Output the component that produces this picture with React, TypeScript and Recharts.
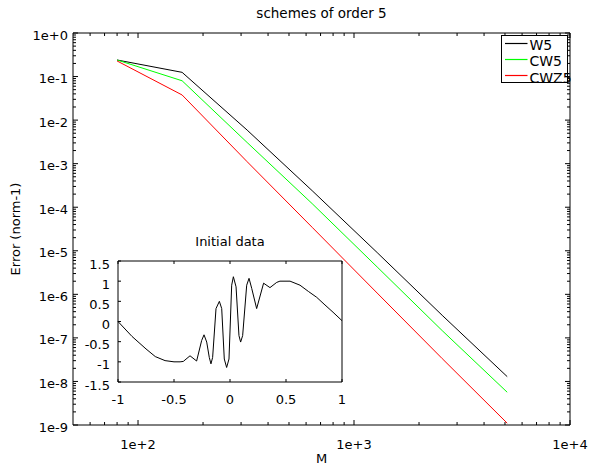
import React from 'react';
import { LineChart, Line, XAxis, YAxis, Legend } from 'recharts';

// convergence data
const M = [80, 160, 320, 640, 1280, 2560, 5120];
const W5 = [0.24, 0.125, 5.9e-3, 2.4e-4, 9.1e-6, 3.3e-7, 1.29e-8];
const CW5 = [0.24, 0.08, 3.06e-3, 1.21e-4, 4.25e-6, 1.47e-7, 5.65e-9];
const CWZ5 = [0.228, 0.0378, 1.11e-3, 3.46e-5, 1.07e-6, 3.35e-8, 1.1e-9];

const SERIES = [
  { key: 'w5', name: 'W5', color: '#000000' },
  { key: 'cw5', name: 'CW5', color: '#00ff00' },
  { key: 'cwz5', name: 'CWZ5', color: '#ff0000' },
];

// inset: initial data u0(x)
const INIT_X = [
  -1, -0.875, -0.75, -0.667, -0.58, -0.5, -0.446, -0.417, -0.357, -0.298, -0.253, -0.232, -0.208,
  -0.185, -0.17, -0.155, -0.125, -0.095, -0.074, -0.051, -0.03, -0.009, 0.015, 0.03, 0.054, 0.08,
  0.095, 0.113, 0.149, 0.17, 0.194, 0.238, 0.3, 0.357, 0.417, 0.446, 0.536, 0.625, 0.7, 0.774,
  0.848, 0.92, 1,
];
const INIT_U = [
  0, -0.37, -0.68, -0.87, -0.97, -1.0, -1.0, -0.99, -0.85, -0.98, -0.47, -0.33, -0.51,
  -0.89, -1.05, -0.89, 0.32, 0.5, 0.32, -0.93, -1.14, -0.93, 0.9, 1.11, 0.86, -0.35,
  -0.51, -0.35, 0.9, 1.07, 0.82, 0.32, 0.95, 0.84, 0.97, 1.0, 1.0, 0.9, 0.745, 0.6,
  0.41, 0.23, 0.02,
];

// tick positions
const X_DECADES = [10, 100, 1000];
const Y_DECADES = [1e-9, 1e-8, 1e-7, 1e-6, 1e-5, 1e-4, 1e-3, 1e-2, 1e-1];
const MULTS = [1, 2, 3, 4, 5, 6, 7, 8, 9];
const X_TICKS = [...X_DECADES.flatMap((d) => MULTS.map((k) => k * d)).filter((v) => v > 50), 10000];
const Y_TICKS = [...Y_DECADES.flatMap((d) => MULTS.map((k) => k * d)), 1];
const INSET_X_TICKS = [-1, -0.5, 0, 0.5, 1];
const INSET_Y_TICKS = [-1.5, -1, -0.5, 0, 0.5, 1, 1.5];

const FONT = 'DejaVu Sans';
const INK = '#000';

const mainRows = M.map((m, i) => ({ m, w5: W5[i], cw5: CW5[i], cwz5: CWZ5[i] }));
const initRows = INIT_X.map((x, i) => ({ x, u: INIT_U[i] }));

const isMajor = (v: number) => {
  const l = Math.log10(v);
  return Math.abs(l - Math.round(l)) < 1e-6;
};
const expLabel = (v: number) => {
  const e = Math.round(Math.log10(v));
  return `1e${e >= 0 ? '+' : '-'}${Math.abs(e)}`;
};

// log axis ticks, drawn inward; only the bottom/left ones get labels
function logTick(side: 'bottom' | 'top' | 'left' | 'right') {
  return (p: any) => {
    const { x, y, payload } = p;
    const major = isMajor(payload.value);
    const len = major ? 5 : 3;
    if (side === 'bottom' || side === 'top') {
      const dir = side === 'bottom' ? -1 : 1;
      return (
        <g>
          <line x1={x} x2={x} y1={y} y2={y + dir * len} stroke={INK} strokeWidth={1} />
          {side === 'bottom' && major && (
            <text x={x} y={y + 24} textAnchor="middle" fontFamily={FONT} fontSize={13} fill={INK}>
              {expLabel(payload.value)}
            </text>
          )}
        </g>
      );
    }
    const dir = side === 'left' ? 1 : -1;
    return (
      <g>
        <line x1={x} x2={x + dir * len} y1={y} y2={y} stroke={INK} strokeWidth={1} />
        {side === 'left' && major && (
          <text x={x - 5} y={y + 6.5} textAnchor="end" fontFamily={FONT} fontSize={13} fill={INK}>
            {expLabel(payload.value)}
          </text>
        )}
      </g>
    );
  };
}

function linTick(side: 'bottom' | 'top' | 'left' | 'right') {
  return (p: any) => {
    const { x, y, payload } = p;
    const len = 3;
    if (side === 'bottom' || side === 'top') {
      const dir = side === 'bottom' ? -1 : 1;
      return (
        <g>
          <line x1={x} x2={x} y1={y} y2={y + dir * len} stroke={INK} strokeWidth={1} />
          {side === 'bottom' && (
            <text x={x} y={y + 22} textAnchor="middle" fontFamily={FONT} fontSize={13} fill={INK}>
              {String(payload.value)}
            </text>
          )}
        </g>
      );
    }
    const dir = side === 'left' ? 1 : -1;
    return (
      <g>
        <line x1={x} x2={x + dir * len} y1={y} y2={y} stroke={INK} strokeWidth={1} />
        {side === 'left' && (
          <text x={x - 8} y={y + 7.5} textAnchor="end" fontFamily={FONT} fontSize={13} fill={INK}>
            {String(payload.value)}
          </text>
        )}
      </g>
    );
  };
}

const LegendBox = () => (
  <svg width={74} height={52} style={{ overflow: 'visible', display: 'block' }}>
    <rect x={0.5} y={0.5} width={66} height={47} fill="#fff" stroke={INK} strokeWidth={1} />
    {SERIES.map((s, i) => (
      <g key={s.key}>
        <line x1={4} x2={26.5} y1={8.5 + i * 16} y2={8.5 + i * 16} stroke={s.color} strokeWidth={1.2} />
        <text x={28.5} y={15 + i * 16.35} fontFamily={FONT} fontSize={14} fill={INK}>
          {s.name}
        </text>
      </g>
    ))}
  </svg>
);

const axisLine = { stroke: INK, strokeWidth: 1 };

export default function App() {
  return (
    <div
      style={{
        position: 'absolute',
        left: 0,
        top: 0,
        width: 589,
        height: 466,
        background: '#fff',
        overflow: 'hidden',
      }}
    >
      <div style={{ position: 'absolute', left: 0, top: 0 }}>
        {/* plot area: x 73..570, y 33..425 (axes take 1px each) */}
        <LineChart width={589} height={466} data={mainRows} margin={{ top: 32, right: 18, bottom: 40, left: 72 }}>
          <XAxis
            xAxisId="b"
            dataKey="m"
            type="number"
            scale="log"
            domain={[50, 10000]}
            allowDataOverflow
            ticks={X_TICKS}
            interval={0}
            height={1}
            tickSize={0}
            tickMargin={0}
            tickLine={false}
            axisLine={axisLine}
            tick={logTick('bottom')}
          />
          <XAxis
            xAxisId="t"
            orientation="top"
            dataKey="m"
            type="number"
            scale="log"
            domain={[50, 10000]}
            allowDataOverflow
            ticks={X_TICKS}
            interval={0}
            height={1}
            tickSize={0}
            tickMargin={0}
            tickLine={false}
            axisLine={axisLine}
            tick={logTick('top')}
          />
          <YAxis
            yAxisId="l"
            type="number"
            scale="log"
            domain={[1e-9, 1]}
            allowDataOverflow
            ticks={Y_TICKS}
            interval={0}
            width={1}
            tickSize={0}
            tickMargin={0}
            tickLine={false}
            axisLine={axisLine}
            tick={logTick('left')}
          />
          <YAxis
            yAxisId="r"
            orientation="right"
            type="number"
            scale="log"
            domain={[1e-9, 1]}
            allowDataOverflow
            ticks={Y_TICKS}
            interval={0}
            width={1}
            tickSize={0}
            tickMargin={0}
            tickLine={false}
            axisLine={axisLine}
            tick={logTick('right')}
          />
          <Legend
            layout="vertical"
            align="center"
            verticalAlign="middle"
            content={<LegendBox />}
            wrapperStyle={{ left: 501, top: 35, width: 74, height: 52 }}
          />
          {SERIES.map((s) => (
            <Line
              key={s.key}
              xAxisId="b"
              yAxisId="l"
              type="linear"
              dataKey={s.key}
              name={s.name}
              stroke={s.color}
              strokeWidth={1}
              dot={false}
              isAnimationActive={false}
            />
          ))}
        </LineChart>
      </div>

      {/* inset: initial data, plot area x 118..342, y 261..382 */}
      <div style={{ position: 'absolute', left: 80, top: 230 }}>
        <LineChart width={270} height={180} data={initRows} margin={{ top: 30, right: 7, bottom: 27, left: 37 }}>
          <XAxis xAxisId="b" dataKey="x" type="number" domain={[-1, 1]} ticks={INSET_X_TICKS} interval={0} height={1} tickSize={0} tickMargin={0} tickLine={false} axisLine={axisLine} tick={linTick('bottom')} />
          <XAxis xAxisId="t" orientation="top" dataKey="x" type="number" domain={[-1, 1]} ticks={INSET_X_TICKS} interval={0} height={1} tickSize={0} tickMargin={0} tickLine={false} axisLine={axisLine} tick={linTick('top')} />
          <YAxis yAxisId="l" type="number" domain={[-1.5, 1.5]} ticks={INSET_Y_TICKS} interval={0} width={1} tickSize={0} tickMargin={0} tickLine={false} axisLine={axisLine} tick={linTick('left')} />
          <YAxis yAxisId="r" orientation="right" type="number" domain={[-1.5, 1.5]} ticks={INSET_Y_TICKS} interval={0} width={1} tickSize={0} tickMargin={0} tickLine={false} axisLine={axisLine} tick={linTick('right')} />
          <Line xAxisId="b" yAxisId="l" type="linear" dataKey="u" stroke="#000000" strokeWidth={1} dot={false} isAnimationActive={false} />
        </LineChart>
      </div>

      {/* titles and axis labels */}
      <svg width={589} height={466} style={{ position: 'absolute', left: 0, top: 0, pointerEvents: 'none' }}>
        <text x={321.5} y={18} textAnchor="middle" fontFamily={FONT} fontSize={13.5} fill={INK}>
          schemes of order 5
        </text>
        <text x={321.5} y={463} textAnchor="middle" fontFamily={FONT} fontSize={13} fill={INK}>
          M
        </text>
        <text transform="translate(20,229) rotate(-90)" textAnchor="middle" fontFamily={FONT} fontSize={13} fill={INK}>
          Error (norm-1)
        </text>
        <text x={230} y={246} textAnchor="middle" fontFamily={FONT} fontSize={13} fill={INK}>
          Initial data
        </text>
      </svg>
    </div>
  );
}
